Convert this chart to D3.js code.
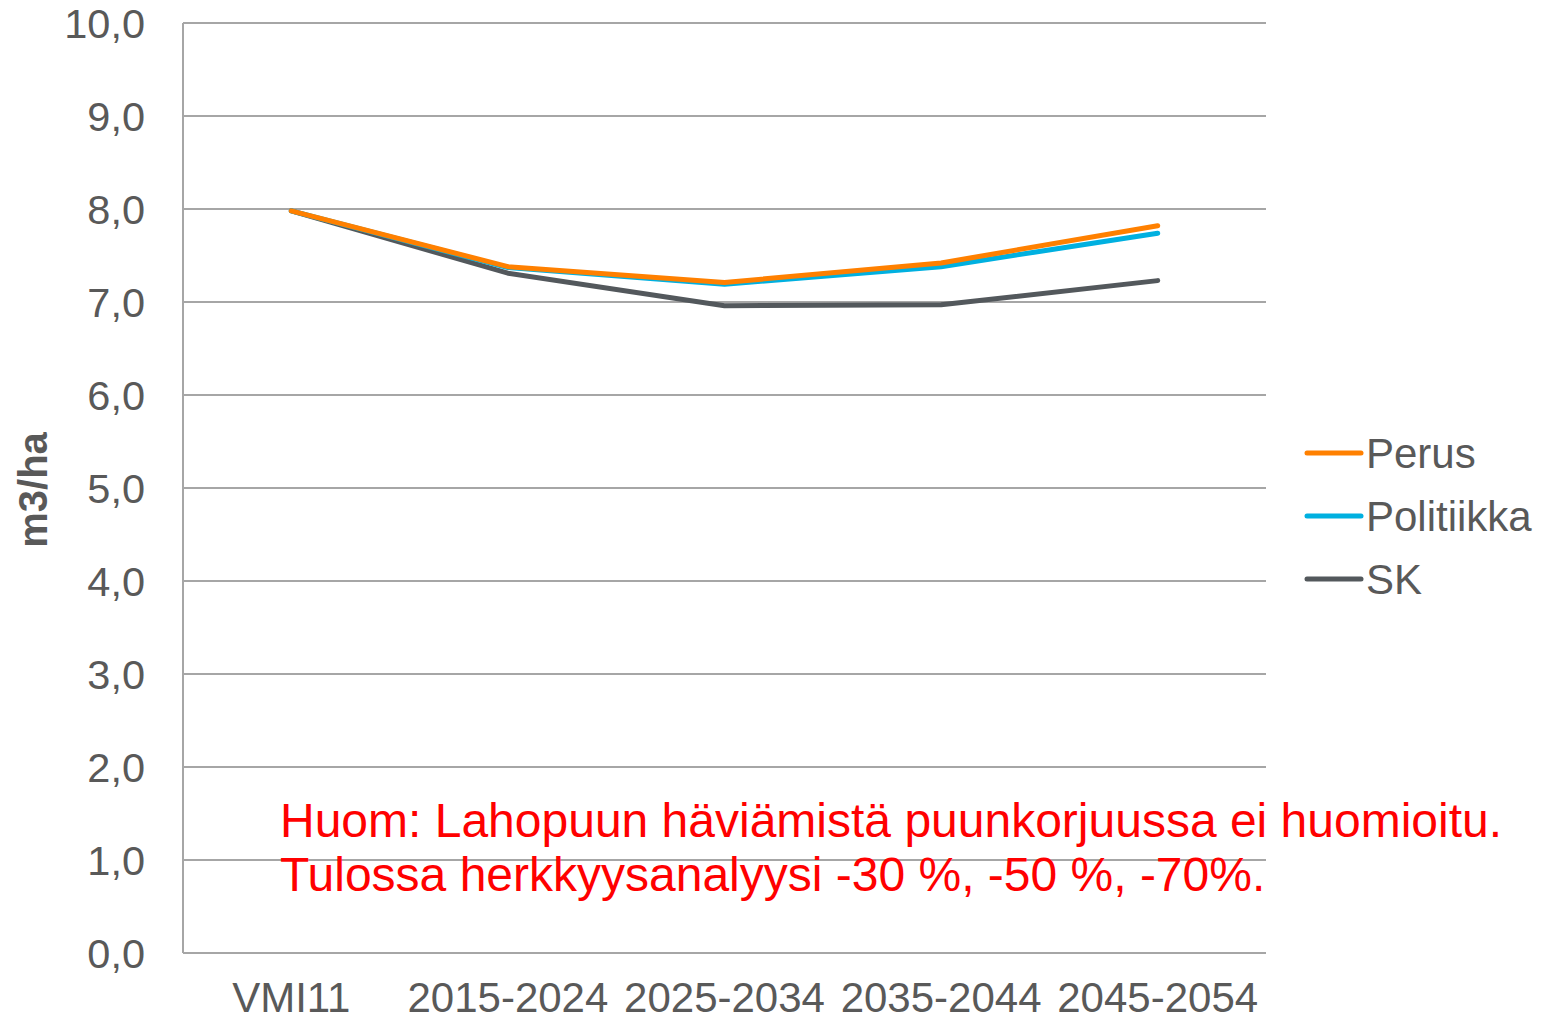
<!DOCTYPE html>
<html>
<head>
<meta charset="utf-8">
<script src="https://cdn.jsdelivr.net/npm/d3@7"></script>
<style>
    body { margin: 0; background: #fff; }
    svg { font-family: "Liberation Sans", Arial, sans-serif; }
</style>
</head>
<body>
<svg width="1542" height="1022"></svg>
<script>
const categories = ["VMI11", "2015-2024", "2025-2034", "2035-2044", "2045-2054"];
const seriesNames = ["Perus", "Politiikka", "SK"];
const perus = [7.98, 7.38, 7.21, 7.42, 7.82];
const politiikka = [7.98, 7.37, 7.19, 7.38, 7.74];
const sk = [7.98, 7.31, 6.96, 6.97, 7.23];
const yTicks = [0, 1, 2, 3, 4, 5, 6, 7, 8, 9, 10];
const note = ["Huom: Lahopuun häviämistä puunkorjuussa ei huomioitu.",
    "Tulossa herkkyysanalyysi -30 %, -50 %, -70%."];

const colors = ["#ff8000", "#00b0e0", "#53585c"];
const textColor = "#595959";

const svg = d3.select("svg");
const plotLeft = 183, plotRight = 1266, plotTop = 23, plotBottom = 953;

const x = d3.scaleBand()
    .domain(categories)
    .range([plotLeft, plotRight]);

const y = d3.scaleLinear()
    .domain([0, 10])
    .range([plotBottom, plotTop]);

// grid lines
svg.append("g")
    .selectAll("line")
    .data(yTicks)
    .enter().append("line")
    .attr("x1", plotLeft)
    .attr("x2", plotRight)
    .attr("y1", d => y(d))
    .attr("y2", d => y(d))
    .attr("stroke", "#a6a6a6")
    .attr("stroke-width", 2);

// y axis line
svg.append("line")
    .attr("x1", plotLeft).attr("x2", plotLeft)
    .attr("y1", plotTop).attr("y2", plotBottom)
    .attr("stroke", "#a6a6a6")
    .attr("stroke-width", 2);

// y tick labels
svg.append("g")
    .selectAll("text")
    .data(yTicks)
    .enter().append("text")
    .attr("x", 145)
    .attr("y", d => y(d))
    .attr("dy", "0.35em")
    .attr("text-anchor", "end")
    .attr("fill", textColor)
    .style("font-size", "41.5px")
    .text(d => d3.format(".1f")(d).replace(".", ","));

// x labels
svg.append("g")
    .selectAll("text")
    .data(categories)
    .enter().append("text")
    .attr("x", d => x(d) + x.bandwidth() / 2)
    .attr("y", 1012)
    .attr("text-anchor", "middle")
    .attr("fill", textColor)
    .style("font-size", "42px")
    .text(d => d);

// y axis title
svg.append("text")
    .attr("transform", "translate(47,490) rotate(-90)")
    .attr("text-anchor", "middle")
    .attr("fill", textColor)
    .style("font-size", "40px")
    .style("font-weight", "bold")
    .text("m3/ha");

// lines
const allSeries = [perus, politiikka, sk];
const line = d3.line()
    .x((d, i) => x(categories[i]) + x.bandwidth() / 2)
    .y(d => y(d));

svg.append("g")
    .selectAll("path")
    .data(allSeries.slice().reverse())
    .enter().append("path")
    .attr("d", d => line(d))
    .attr("fill", "none")
    .attr("stroke", (d, i) => colors[2 - i])
    .attr("stroke-width", 5)
    .attr("stroke-linecap", "round")
    .attr("stroke-linejoin", "round");

// legend
const legend = svg.append("g")
    .selectAll("g")
    .data(seriesNames)
    .enter().append("g")
    .attr("transform", (d, i) => "translate(1307," + (453 + i * 63) + ")");

legend.append("line")
    .attr("x1", 0).attr("x2", 54)
    .attr("stroke", (d, i) => colors[i])
    .attr("stroke-width", 5)
    .attr("stroke-linecap", "round");

legend.append("text")
    .attr("x", 59)
    .attr("dy", "0.35em")
    .attr("fill", textColor)
    .style("font-size", "42px")
    .text(d => d);

// annotation
svg.append("g")
    .selectAll("text")
    .data(note)
    .enter().append("text")
    .attr("x", 280)
    .attr("y", (d, i) => 837 + i * 54)
    .attr("fill", "#ff0000")
    .style("font-size", "48px")
    .text(d => d);
</script>
</body>
</html>
